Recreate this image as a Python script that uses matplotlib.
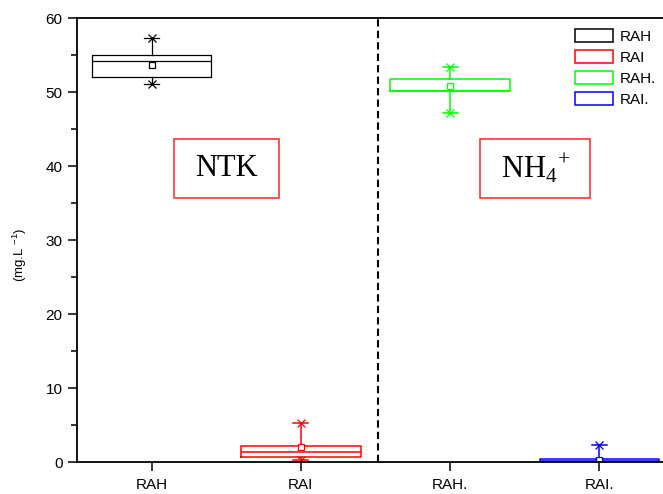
import matplotlib
matplotlib.use('Agg')
import matplotlib.pyplot as plt
from matplotlib.patches import Patch, Rectangle

# Категории и статистика боксов (мг/л)
categories = ['RAH', 'RAI', 'RAH.', 'RAI.']
colors = ['black', 'red', '#00ff00', 'blue']
q1 = [52.0, 0.63, 50.2, 0.0]
q3 = [55.0, 2.2, 51.8, 0.35]
medians = [54.2, 1.39, 50.2, 0.1]
means = [53.6, 2.0, 50.8, 0.3]
whisk_low = [51.1, 0.27, 47.1, 0.0]
whisk_high = [57.3, 5.3, 53.4, 2.25]

panel_labels = ['NTK', r'$\mathrm{NH}_4{}^{+}$']
y_label = r'(mg.L $^{\mathsf{-1}}$)'

plt.rcParams['font.family'] = ['Liberation Sans', 'DejaVu Sans']
plt.rcParams['mathtext.fontset'] = 'custom'
plt.rcParams['mathtext.rm'] = 'Liberation Serif'
plt.rcParams['mathtext.sf'] = 'Liberation Sans'


def create_box_chart():
    fig = plt.figure(figsize=(6.63, 4.94), dpi=100)
    ax = fig.add_axes([77 / 663, 32 / 494, 597 / 663, 444 / 494])

    positions = list(range(1, len(categories) + 1))
    for i, pos in enumerate(positions):
        stats = [{'med': medians[i], 'q1': q1[i], 'q3': q3[i],
                  'whislo': whisk_low[i], 'whishi': whisk_high[i],
                  'mean': means[i], 'fliers': []}]
        c = colors[i]
        lw = 0.9 if i == 0 else 1.1
        ax.bxp(stats, positions=[pos], widths=0.8, showmeans=True,
               boxprops=dict(color=c, linewidth=lw),
               medianprops=dict(color=c, linewidth=lw),
               whiskerprops=dict(color=c, linewidth=lw),
               capprops=dict(color=c, linewidth=lw),
               capwidths=0.1,
               meanprops=dict(marker='s', markerfacecolor='white',
                              markeredgecolor=c, markersize=5,
                              markeredgewidth=0.9))
        # Звёздочки на концах усов (min/max)
        ax.plot([pos, pos], [whisk_low[i], whisk_high[i]], linestyle='none',
                marker='x', color=c, markersize=6, markeredgewidth=0.9)

    # Разделитель между NTK и NH4+
    ax.axvline(2.52, color='black', linestyle=(0, (3.5, 2)), linewidth=1.5)

    # Подписи панелей в красных рамках
    for (x0, x1), label in zip([(1.147, 1.851), (3.202, 3.938)], panel_labels):
        ax.add_patch(Rectangle((x0, 35.7), x1 - x0, 7.9, fill=False,
                               edgecolor='#ff3333', linewidth=1.2))
        ax.text((x0 + x1) / 2, 39.65, label, ha='center', va='center',
                fontsize=22, family='Liberation Serif')

    ax.set_xlim(0.5, 4.5)
    ax.set_ylim(0, 60)
    ax.set_yticks(range(0, 61, 10))
    ax.set_yticks(range(5, 60, 10), minor=True)
    ax.set_xticks(positions, categories)
    ax.tick_params(axis='both', which='major', direction='out', length=6.5,
                   width=1.1, labelsize=11)
    ax.tick_params(axis='y', which='major', pad=4)
    ax.tick_params(axis='x', which='major', pad=5)
    ax.tick_params(axis='y', which='minor', direction='out', length=4, width=1.1)
    for side in ['left', 'bottom', 'top', 'right']:
        ax.spines[side].set_linewidth(1.3)

    fig.text(20 / 663, 1 - 255 / 494, y_label, rotation=90, ha='center',
             va='center', fontsize=9.5)

    handles = [Patch(facecolor='none', edgecolor=c, linewidth=1.1) for c in colors]
    fig.legend(handles, categories, loc='upper left',
               bbox_to_anchor=(575 / 663, 1 - 29 / 494),
               bbox_transform=fig.transFigure, frameon=False, fontsize=11,
               handlelength=2.5, handleheight=0.9, handletextpad=0.4,
               labelspacing=0.42, borderpad=0, borderaxespad=0)

    fig.savefig('out.png', dpi=100)


create_box_chart()
